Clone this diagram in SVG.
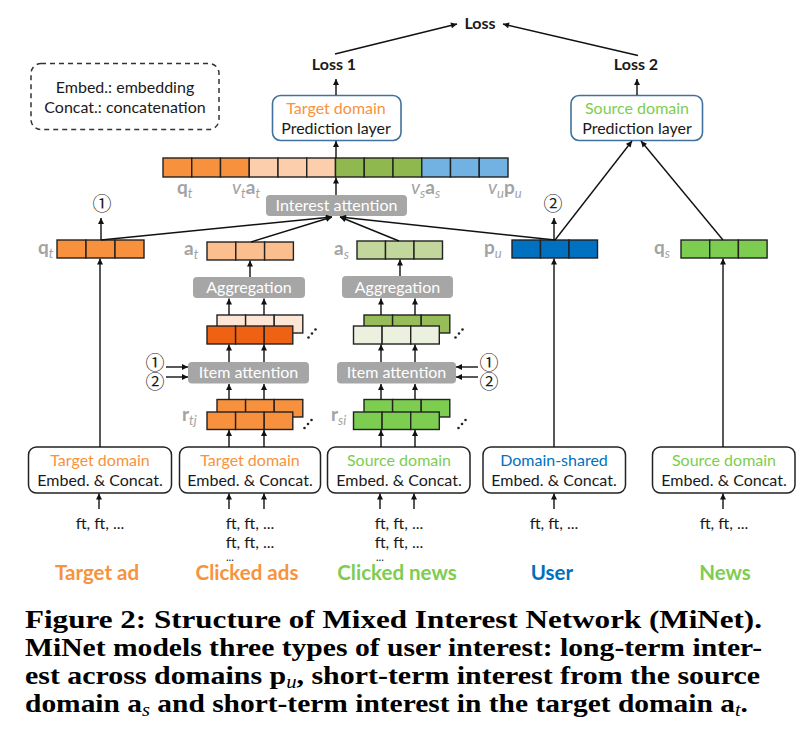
<svg xmlns="http://www.w3.org/2000/svg" width="802" height="752" viewBox="0 0 802 752">
<defs>
<marker id="ah" viewBox="0 0 10 10" refX="10" refY="5" markerWidth="7" markerHeight="6" markerUnits="userSpaceOnUse" orient="auto">
<path d="M0,0 L10,5 L0,10 z" fill="#111"/>
</marker>
<style>
.t{font-family:Lato,"Liberation Sans",sans-serif;font-size:16px;fill:#1a1a1a;text-anchor:middle}
.or{fill:#f7923e}
.gr{fill:#7dcd4f}
.bl{fill:#0070c0}
.bold{font-weight:bold}
.proc{fill:#a6a6a6}
.pt{font-family:Lato,"Liberation Sans",sans-serif;font-size:16px;fill:#fff;text-anchor:middle}
.lbl{font-family:Lato,"Liberation Sans",sans-serif;font-size:19px;fill:#a3a3a3;font-weight:bold}
.sub{font-size:13px;font-style:italic;font-weight:normal}
.vi{font-style:italic;font-weight:normal}
.cell{stroke:#222;stroke-width:1.4}
.pbox{fill:#fff;stroke:#41719c;stroke-width:1.6}
.ebox{fill:#fff;stroke:#222;stroke-width:1.5}
.ca{stroke:#111;stroke-width:1.4;fill:none;marker-end:url(#ah)}
.num{font-family:"Noto Sans CJK JP","DejaVu Sans",sans-serif;font-size:19px;fill:#1a1a1a;text-anchor:middle}
.big{font-family:Lato,"Liberation Sans",sans-serif;font-size:20.5px;font-weight:bold;text-anchor:middle}
.cap{font-family:"Liberation Serif",serif;font-size:26px;font-weight:bold;fill:#000}
.cs{font-size:18px;font-style:italic;font-weight:normal}
.dots{font-family:Lato,"Liberation Sans",sans-serif;font-size:11px;fill:#1a1a1a}
.dot{fill:#222}
</style>
</defs>

<g id="legend">
<rect x="31" y="63.5" width="188" height="66" rx="10" fill="none" stroke="#333" stroke-width="1.5" stroke-dasharray="5,4"/>
<text class="t" x="125" y="92.5">Embed.: embedding</text>
<text class="t" x="125" y="112.5">Concat.: concatenation</text>
</g>

<g id="loss">
<text class="t bold" x="480" y="29" font-size="14.5">Loss</text>
</g>
<g id="loss1"><text class="t bold" x="334" y="70" font-size="14.5">Loss 1</text></g>
<g id="loss2"><text class="t bold" x="636" y="70" font-size="14.5">Loss 2</text></g>

<g id="pred-target">
<rect class="pbox" x="272.5" y="95.5" width="128.5" height="45" rx="8"/>
<text class="t or" x="336" y="113.5">Target domain</text>
<text class="t" x="336" y="133.5">Prediction layer</text>
</g>
<g id="pred-source">
<rect class="pbox" x="571" y="95.5" width="131.5" height="45" rx="8"/>
<text class="t gr" x="637" y="113.5">Source domain</text>
<text class="t" x="637" y="133.5">Prediction layer</text>
</g>

<g id="concat">
<rect class="cell" x="163" y="158" width="28.75" height="19" fill="#f7913d"/>
<rect class="cell" x="191.75" y="158" width="28.75" height="19" fill="#f7913d"/>
<rect class="cell" x="220.5" y="158" width="28.75" height="19" fill="#f7913d"/>
<rect class="cell" x="249.25" y="158" width="28.75" height="19" fill="#fcceac"/>
<rect class="cell" x="278" y="158" width="28.75" height="19" fill="#fcceac"/>
<rect class="cell" x="306.75" y="158" width="28.75" height="19" fill="#fcceac"/>
<rect class="cell" x="335.5" y="158" width="28.75" height="19" fill="#8fb94f"/>
<rect class="cell" x="364.25" y="158" width="28.75" height="19" fill="#8fb94f"/>
<rect class="cell" x="393" y="158" width="28.75" height="19" fill="#8fb94f"/>
<rect class="cell" x="421.75" y="158" width="28.75" height="19" fill="#72b2e2"/>
<rect class="cell" x="450.5" y="158" width="28.75" height="19" fill="#72b2e2"/>
<rect class="cell" x="479.25" y="158" width="28.75" height="19" fill="#72b2e2"/>
<text class="lbl" x="177" y="194">q<tspan class="sub" dy="4">t</tspan></text>
<text class="lbl" x="232" y="194"><tspan class="vi">v</tspan><tspan class="sub" dy="4">t</tspan><tspan dy="-4">a</tspan><tspan class="sub" dy="4">t</tspan></text>
<text class="lbl" x="411" y="194"><tspan class="vi">v</tspan><tspan class="sub" dy="4">s</tspan><tspan dy="-4">a</tspan><tspan class="sub" dy="4">s</tspan></text>
<text class="lbl" x="488" y="194"><tspan class="vi">v</tspan><tspan class="sub" dy="4">u</tspan><tspan dy="-4">p</tspan><tspan class="sub" dy="4">u</tspan></text>
</g>

<g id="interest-attention">
<rect class="proc" x="266" y="195" width="141" height="21" rx="4"/>
<text class="pt" x="336.5" y="211">Interest attention</text>
</g>

<g id="qt">
<rect class="cell" x="57" y="240" width="29" height="18" fill="#f7913d"/>
<rect class="cell" x="86" y="240" width="29" height="18" fill="#f7913d"/>
<rect class="cell" x="115" y="240" width="29" height="18" fill="#f7913d"/>
<text class="lbl" x="38" y="254">q<tspan class="sub" dy="4">t</tspan></text>
<text class="num" x="102" y="210.5">①</text>
</g>

<g id="at">
<rect class="cell" x="207" y="242" width="28.8" height="18" fill="#fbbf8f"/>
<rect class="cell" x="235.8" y="242" width="28.8" height="18" fill="#fbbf8f"/>
<rect class="cell" x="264.6" y="242" width="28.8" height="18" fill="#fbbf8f"/>
<text class="lbl" x="184" y="255">a<tspan class="sub" dy="4">t</tspan></text>
</g>

<g id="as">
<rect class="cell" x="357" y="241" width="28.5" height="18" fill="#c3d69b"/>
<rect class="cell" x="385.5" y="241" width="28.5" height="18" fill="#c3d69b"/>
<rect class="cell" x="414" y="241" width="28.5" height="18" fill="#c3d69b"/>
<text class="lbl" x="334" y="255">a<tspan class="sub" dy="4">s</tspan></text>
</g>

<g id="pu">
<rect class="cell" x="512" y="240" width="28.5" height="18" fill="#0070c0"/>
<rect class="cell" x="540.5" y="240" width="28.5" height="18" fill="#0070c0"/>
<rect class="cell" x="569" y="240" width="28.5" height="18" fill="#0070c0"/>
<text class="lbl" x="484" y="254">p<tspan class="sub" dy="4">u</tspan></text>
<text class="num" x="553" y="210.5">②</text>
</g>

<g id="qs">
<rect class="cell" x="681" y="240" width="28.7" height="18" fill="#7dce50"/>
<rect class="cell" x="709.7" y="240" width="28.7" height="18" fill="#7dce50"/>
<rect class="cell" x="738.4" y="240" width="28.7" height="18" fill="#7dce50"/>
<text class="lbl" x="654" y="254">q<tspan class="sub" dy="4">s</tspan></text>
</g>

<g id="aggregation-t">
<rect class="proc" x="193" y="277" width="112" height="21" rx="4"/>
<text class="pt" x="249" y="293">Aggregation</text>
</g>
<g id="aggregation-s">
<rect class="proc" x="342" y="276" width="111" height="22" rx="4"/>
<text class="pt" x="397.5" y="292.5">Aggregation</text>
</g>

<g id="att-t">
<rect class="cell" x="217" y="315" width="28.6" height="18" fill="#fde6d5"/>
<rect class="cell" x="245.6" y="315" width="28.6" height="18" fill="#fde6d5"/>
<rect class="cell" x="274.2" y="315" width="28.6" height="18" fill="#fde6d5"/>
<rect class="cell" x="207" y="326" width="28.6" height="18" fill="#ef6214"/>
<rect class="cell" x="235.6" y="326" width="28.6" height="18" fill="#ef6214"/>
<rect class="cell" x="264.2" y="326" width="28.6" height="18" fill="#ef6214"/>
<circle class="dot" cx="308.5" cy="337.5" r="1.3"/><circle class="dot" cx="312" cy="333.5" r="1.3"/><circle class="dot" cx="315.5" cy="329.5" r="1.3"/>
</g>
<g id="att-s">
<rect class="cell" x="364" y="315" width="28.6" height="18" fill="#96bd58"/>
<rect class="cell" x="392.6" y="315" width="28.6" height="18" fill="#96bd58"/>
<rect class="cell" x="421.2" y="315" width="28.6" height="18" fill="#96bd58"/>
<rect class="cell" x="353.5" y="326" width="28.6" height="18" fill="#ebf1de"/>
<rect class="cell" x="382.1" y="326" width="28.6" height="18" fill="#ebf1de"/>
<rect class="cell" x="410.7" y="326" width="28.6" height="18" fill="#ebf1de"/>
<circle class="dot" cx="455.5" cy="337.5" r="1.3"/><circle class="dot" cx="459" cy="333.5" r="1.3"/><circle class="dot" cx="462.5" cy="329.5" r="1.3"/>
</g>

<g id="item-attention-t">
<rect class="proc" x="188" y="362" width="121" height="21.5" rx="4"/>
<text class="pt" x="248.5" y="378">Item attention</text>
<text class="num" x="155" y="369.5">①</text>
<text class="num" x="155" y="389">②</text>
</g>
<g id="item-attention-s">
<rect class="proc" x="337" y="362" width="119" height="21.5" rx="4"/>
<text class="pt" x="396.5" y="378">Item attention</text>
<text class="num" x="489" y="369.5">①</text>
<text class="num" x="489" y="389">②</text>
</g>

<g id="rtj">
<rect class="cell" x="217" y="399.5" width="28.6" height="17.5" fill="#f7913d"/>
<rect class="cell" x="245.6" y="399.5" width="28.6" height="17.5" fill="#f7913d"/>
<rect class="cell" x="274.2" y="399.5" width="28.6" height="17.5" fill="#f7913d"/>
<rect class="cell" x="207" y="412" width="28.6" height="17.5" fill="#f7913d"/>
<rect class="cell" x="235.6" y="412" width="28.6" height="17.5" fill="#f7913d"/>
<rect class="cell" x="264.2" y="412" width="28.6" height="17.5" fill="#f7913d"/>
<circle class="dot" cx="304.5" cy="428" r="1.3"/><circle class="dot" cx="308" cy="424" r="1.3"/><circle class="dot" cx="311.5" cy="420" r="1.3"/>
<text class="lbl" x="182" y="421">r<tspan class="sub" dy="4">tj</tspan></text>
</g>
<g id="rsi">
<rect class="cell" x="364" y="399.5" width="28.6" height="17.5" fill="#7dce50"/>
<rect class="cell" x="392.6" y="399.5" width="28.6" height="17.5" fill="#7dce50"/>
<rect class="cell" x="421.2" y="399.5" width="28.6" height="17.5" fill="#7dce50"/>
<rect class="cell" x="353.5" y="412" width="28.6" height="17.5" fill="#7dce50"/>
<rect class="cell" x="382.1" y="412" width="28.6" height="17.5" fill="#7dce50"/>
<rect class="cell" x="410.7" y="412" width="28.6" height="17.5" fill="#7dce50"/>
<circle class="dot" cx="458.5" cy="428" r="1.3"/><circle class="dot" cx="462" cy="424" r="1.3"/><circle class="dot" cx="465.5" cy="420" r="1.3"/>
<text class="lbl" x="331" y="421">r<tspan class="sub" dy="4">si</tspan></text>
</g>

<g id="embed-target-ad">
<rect class="ebox" x="28.5" y="447" width="143" height="46" rx="8"/>
<text class="t or" x="100" y="465.5">Target domain</text>
<text class="t" x="100" y="485.5">Embed. &amp; Concat.</text>
<text class="t" x="100" y="529">ft, ft, ...</text>
<text class="big or" x="97" y="579.5">Target ad</text>
</g>
<g id="embed-clicked-ads">
<rect class="ebox" x="179.5" y="447" width="141" height="46" rx="8"/>
<text class="t or" x="250" y="465.5">Target domain</text>
<text class="t" x="250" y="529">ft, ft, ...</text>
<text class="t" x="250" y="485.5">Embed. &amp; Concat.</text>
<text class="t" x="250" y="548">ft, ft, ...</text>
<text class="dots" x="226" y="561">...</text>
<text class="big or" x="247" y="579.5">Clicked ads</text>
</g>
<g id="embed-clicked-news">
<rect class="ebox" x="327.5" y="447" width="142.5" height="46" rx="8"/>
<text class="t gr" x="399" y="465.5">Source domain</text>
<text class="t" x="399" y="485.5">Embed. &amp; Concat.</text>
<text class="t" x="399" y="529">ft, ft, ...</text>
<text class="t" x="399" y="548">ft, ft, ...</text>
<text class="dots" x="376" y="561">...</text>
<text class="big gr" x="397" y="579.5">Clicked news</text>
</g>
<g id="embed-user">
<rect class="ebox" x="483" y="447" width="142.5" height="46" rx="8"/>
<text class="t bl" x="554" y="465.5">Domain-shared</text>
<text class="t" x="554" y="485.5">Embed. &amp; Concat.</text>
<text class="t" x="554" y="529">ft, ft, ...</text>
<text class="big bl" x="552" y="579.5">User</text>
</g>
<g id="embed-news">
<rect class="ebox" x="652.5" y="447" width="142.5" height="46" rx="8"/>
<text class="t gr" x="724" y="465.5">Source domain</text>
<text class="t" x="724" y="485.5">Embed. &amp; Concat.</text>
<text class="t" x="724" y="529">ft, ft, ...</text>
<text class="big gr" x="725" y="579.5">News</text>
</g>

<g id="connectors">
<line class="ca" x1="335" y1="54" x2="457" y2="24"/>
<line class="ca" x1="638" y1="55.5" x2="503" y2="24"/>
<line class="ca" x1="336" y1="95" x2="336" y2="79"/>
<line class="ca" x1="637" y1="95" x2="637" y2="79"/>
<line class="ca" x1="336" y1="158" x2="336" y2="141"/>
<line class="ca" x1="336" y1="195" x2="336" y2="177.5"/>
<line class="ca" x1="101" y1="240" x2="332" y2="217"/>
<line class="ca" x1="251" y1="242" x2="332" y2="217"/>
<line class="ca" x1="399" y1="241" x2="340" y2="217"/>
<line class="ca" x1="555" y1="240" x2="340" y2="217"/>
<line class="ca" x1="101" y1="240" x2="101" y2="218"/>
<line class="ca" x1="554" y1="240" x2="554" y2="218"/>
<line class="ca" x1="555" y1="240" x2="632" y2="141"/>
<line class="ca" x1="723" y1="240" x2="641" y2="141"/>
<line class="ca" x1="250" y1="277" x2="250" y2="260.5"/>
<line class="ca" x1="400" y1="276" x2="400" y2="259.5"/>
<line class="ca" x1="229" y1="315" x2="229" y2="298.5"/>
<line class="ca" x1="264" y1="315" x2="264" y2="298.5"/>
<line class="ca" x1="381" y1="315" x2="381" y2="298.5"/>
<line class="ca" x1="415" y1="315" x2="415" y2="298.5"/>
<line class="ca" x1="229" y1="362" x2="229" y2="344.5"/>
<line class="ca" x1="264" y1="362" x2="264" y2="344.5"/>
<line class="ca" x1="381" y1="362" x2="381" y2="344.5"/>
<line class="ca" x1="415" y1="362" x2="415" y2="344.5"/>
<line class="ca" x1="166" y1="367" x2="188" y2="367"/>
<line class="ca" x1="166" y1="377" x2="188" y2="377"/>
<line class="ca" x1="478" y1="367" x2="456" y2="367"/>
<line class="ca" x1="478" y1="377" x2="456" y2="377"/>
<line class="ca" x1="229" y1="399.5" x2="229" y2="384"/>
<line class="ca" x1="264" y1="399.5" x2="264" y2="384"/>
<line class="ca" x1="381" y1="399.5" x2="381" y2="384"/>
<line class="ca" x1="415" y1="399.5" x2="415" y2="384"/>
<line class="ca" x1="100" y1="447" x2="100" y2="258.5"/>
<line class="ca" x1="229" y1="447" x2="229" y2="430"/>
<line class="ca" x1="264" y1="447" x2="264" y2="430"/>
<line class="ca" x1="381" y1="447" x2="381" y2="430"/>
<line class="ca" x1="415" y1="447" x2="415" y2="430"/>
<line class="ca" x1="554" y1="447" x2="554" y2="258.5"/>
<line class="ca" x1="723" y1="447" x2="723" y2="258.5"/>
<line class="ca" x1="99" y1="509" x2="99" y2="493.5"/>
<line class="ca" x1="229" y1="509" x2="229" y2="493.5"/>
<line class="ca" x1="264" y1="509" x2="264" y2="493.5"/>
<line class="ca" x1="380" y1="509" x2="380" y2="493.5"/>
<line class="ca" x1="414" y1="509" x2="414" y2="493.5"/>
<line class="ca" x1="554" y1="509" x2="554" y2="493.5"/>
<line class="ca" x1="723" y1="509" x2="723" y2="493.5"/>
</g>

<g id="caption">
<text class="cap" x="25" y="628" textLength="737" lengthAdjust="spacingAndGlyphs">Figure 2: Structure of Mixed Interest Network (MiNet).</text>
<text class="cap" x="25" y="656" textLength="737" lengthAdjust="spacingAndGlyphs">MiNet models three types of user interest: long-term inter-</text>
<text class="cap" x="25" y="684" textLength="735" lengthAdjust="spacingAndGlyphs">est across domains p<tspan class="cs" dy="4">u</tspan><tspan dy="-4">, short-term interest from the source</tspan></text>
<text class="cap" x="25" y="712" textLength="723" lengthAdjust="spacingAndGlyphs">domain a<tspan class="cs" dy="4">s</tspan><tspan dy="-4"> and short-term interest in the target domain a</tspan><tspan class="cs" dy="4">t</tspan><tspan dy="-4">.</tspan></text>
</g>
</svg>
